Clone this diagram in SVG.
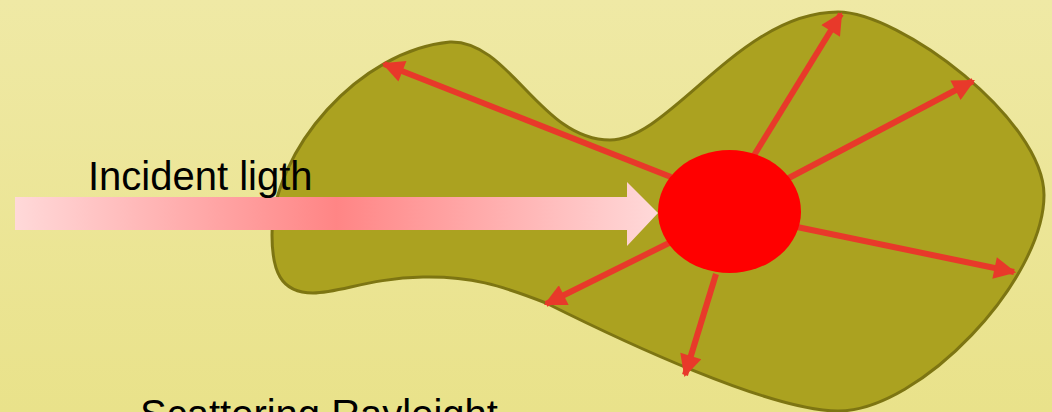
<svg xmlns="http://www.w3.org/2000/svg" width="1052" height="412" viewBox="0 0 1052 412">
<defs>
<linearGradient id="bg" x1="0" y1="0" x2="0" y2="1">
<stop offset="0" stop-color="#EFE9A5"/>
<stop offset="1" stop-color="#E9E28A"/>
</linearGradient>
<linearGradient id="beam" gradientUnits="userSpaceOnUse" x1="15" y1="0" x2="658" y2="0">
<stop offset="0" stop-color="#FFD9D9"/>
<stop offset="0.5" stop-color="#FF8585"/>
<stop offset="1" stop-color="#FFD9D9"/>
</linearGradient>
<marker id="ah" viewBox="0 0 10 10" refX="9" refY="5" markerWidth="24" markerHeight="22" markerUnits="userSpaceOnUse" orient="auto">
<path d="M0,0 L10,5 L0,10 Z" fill="#E8392A"/>
</marker>
<style>
.lbl{font-family:"Liberation Sans",Arial,sans-serif;font-size:40px;fill:#000}
.ray{stroke:#E8392A;stroke-width:6;fill:none;marker-end:url(#ah)}
</style>
</defs>
<rect width="1052" height="412" fill="url(#bg)"/>
<g id="medium">
<path d="M450,42 C510,40 540,140 610,140 C670,140 740,12 838,12 C900,12 1044,120 1044,195 C1044,280 920,411 838,411 C770,411 620,340 546,303 C500,285 470,276 423,277 C370,278 340,293 313,293 C280,293 272,270 272,235 C272,150 360,50 450,42 Z" fill="#ABA220" stroke="#7D7512" stroke-width="3"/>
</g>
<g id="connectors">
<line class="ray" x1="753" y1="157" x2="841" y2="14"/>
<line class="ray" x1="785" y1="180" x2="973" y2="81"/>
<line class="ray" x1="797" y1="227" x2="1014" y2="272"/>
<line class="ray" x1="716" y1="274" x2="685" y2="375"/>
<line class="ray" x1="669" y1="243" x2="546" y2="304"/>
<line class="ray" x1="671" y1="177" x2="384" y2="64"/>
</g>
<g id="incident">
<path d="M15,197 H627 V182 L658,213 L627,246 V230 H15 Z" fill="url(#beam)"/>
<text class="lbl" x="88" y="190">Incident ligth</text>
</g>
<g id="particle">
<ellipse cx="729.5" cy="211.5" rx="71.5" ry="61.5" fill="#FF0000"/>
</g>
<g id="caption">
<text class="lbl" x="140" y="428">Scattering Rayleight</text>
</g>
</svg>
